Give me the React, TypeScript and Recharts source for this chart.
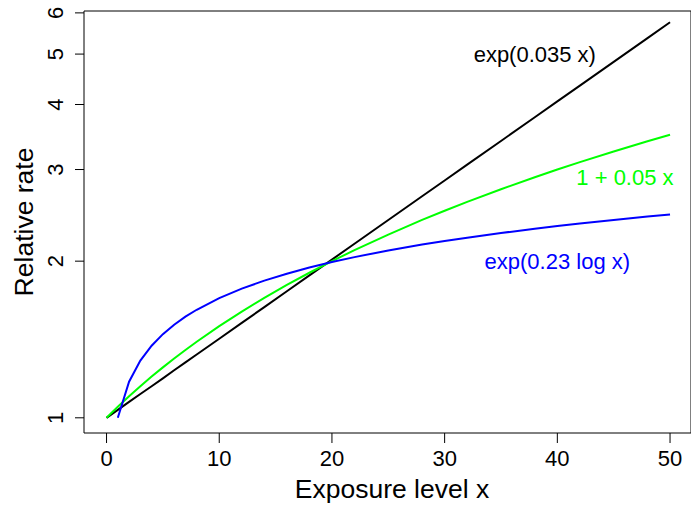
import { LineChart, Line, XAxis, YAxis, ReferenceArea, ReferenceDot } from "recharts";

const xs = [0, 1, 2, 3, 4, 5, 6, 7, 8, 10, 12, 14, 16, 18, 20, 22, 25, 28, 30, 32, 35, 38, 40, 42, 45, 48, 50];
const expLinear = [1, 1.036, 1.073, 1.111, 1.150, 1.191, 1.234, 1.278, 1.323, 1.419, 1.522, 1.632, 1.751, 1.878, 2.014, 2.160, 2.399, 2.665, 2.858, 3.065, 3.404, 3.781, 4.055, 4.349, 4.831, 5.366, 5.755];
const linear = [1, 1.05, 1.1, 1.15, 1.2, 1.25, 1.3, 1.35, 1.4, 1.5, 1.6, 1.7, 1.8, 1.9, 2.0, 2.1, 2.25, 2.4, 2.5, 2.6, 2.75, 2.9, 3.0, 3.1, 3.25, 3.4, 3.5];
const power = [null, 1, 1.173, 1.288, 1.376, 1.448, 1.510, 1.565, 1.613, 1.698, 1.771, 1.835, 1.892, 1.944, 1.992, 2.036, 2.097, 2.152, 2.187, 2.219, 2.265, 2.309, 2.336, 2.362, 2.400, 2.436, 2.459];

const xTicks = [0, 10, 20, 30, 40, 50];
const yTicks = [1, 2, 3, 4, 5, 6];

const X_DOMAIN: [number, number] = [-2, 51.86];
const Y_DOMAIN: [number, number] = [0.935, 6.05];

const FONT = "'Liberation Sans', Arial, Helvetica, sans-serif";

const data = xs.map((x, i) => ({ x, a: expLinear[i], b: linear[i], c: power[i] }));

const XTick = (props: any) => {
  const { x, payload } = props;
  return (
    <text x={x} y={466} textAnchor="middle" fontSize={22} fontFamily={FONT} fill="#000">
      {payload.value}
    </text>
  );
};

const YTick = (props: any) => {
  const { y, payload } = props;
  return (
    <text x={63} y={y} transform={`rotate(-90, 63, ${y})`} textAnchor="middle" fontSize={22} fontFamily={FONT} fill="#000">
      {payload.value}
    </text>
  );
};

export default function App() {
  return (
    <div style={{ position: "absolute", left: 0, top: 0, width: 691, height: 505, background: "#fff" }}>
      <LineChart width={691} height={505} data={data} margin={{ top: 11, right: 0, bottom: 0, left: 0 }}>
        <XAxis
          dataKey="x"
          type="number"
          domain={X_DOMAIN}
          ticks={xTicks}
          allowDataOverflow
          height={72}
          tickSize={10}
          axisLine={false}
          tickLine={{ stroke: "#000" }}
          tick={<XTick />}
        />
        <YAxis
          type="number"
          scale="log"
          domain={Y_DOMAIN}
          ticks={yTicks}
          allowDataOverflow
          width={84}
          tickSize={9}
          axisLine={false}
          tickLine={{ stroke: "#000" }}
          tick={<YTick />}
        />
        <ReferenceArea
          x1={X_DOMAIN[0]}
          x2={X_DOMAIN[1]}
          y1={Y_DOMAIN[0]}
          y2={Y_DOMAIN[1]}
          fill="none"
          stroke="#000"
          strokeWidth={1}
          ifOverflow="visible"
        />
        <Line type="linear" dataKey="a" stroke="#000000" strokeWidth={2} dot={false} isAnimationActive={false} />
        <Line type="linear" dataKey="b" stroke="#00FF00" strokeWidth={2} dot={false} isAnimationActive={false} />
        <Line type="linear" dataKey="c" stroke="#0000FF" strokeWidth={2} dot={false} isAnimationActive={false} />
        <ReferenceDot x={38} y={5} r={1} fill="none" stroke="none"
          label={{ value: "exp(0.035 x)", position: "center", fill: "#000", fontSize: 22, fontFamily: FONT }} />
        <ReferenceDot x={46} y={2.9} r={1} fill="none" stroke="none"
          label={{ value: "1 + 0.05 x", position: "center", fill: "#00FF00", fontSize: 22, fontFamily: FONT }} />
        <ReferenceDot x={40} y={2} r={1} fill="none" stroke="none"
          label={{ value: "exp(0.23 log x)", position: "center", fill: "#0000FF", fontSize: 22, fontFamily: FONT }} />
        <text x={392} y={498} textAnchor="middle" fontSize={26.5} fontFamily={FONT} fill="#000">
          Exposure level x
        </text>
        <text x={33} y={222} transform="rotate(-90, 33, 222)" textAnchor="middle" fontSize={26.5} fontFamily={FONT} fill="#000">
          Relative rate
        </text>
      </LineChart>
    </div>
  );
}
